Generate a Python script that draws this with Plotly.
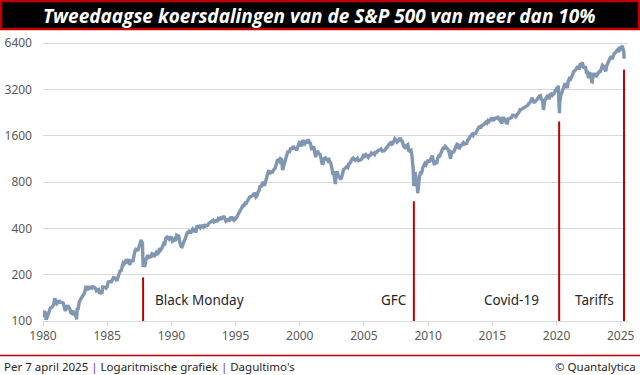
import math
import pandas as pd
import plotly.graph_objects as go

# ---------------- data ----------------
# S&P 500 month-end closes, Jan 1980 ... Mar 2025
sp_1980s = [
    114.16, 113.66, 102.09, 106.29, 111.24, 114.24, 121.67, 122.38, 125.46, 127.47, 140.52, 135.76,
    129.55, 131.27, 136.00, 132.81, 132.59, 131.21, 130.92, 122.79, 116.18, 121.89, 126.35, 122.55,
    120.40, 113.11, 111.96, 116.44, 111.88, 109.61, 107.09, 119.51, 120.42, 133.71, 138.54, 140.64,
    145.30, 148.06, 152.96, 164.42, 162.39, 168.11, 162.56, 164.40, 166.07, 163.55, 166.40, 164.93,
    163.41, 157.06, 159.18, 160.05, 150.55, 153.18, 150.66, 166.68, 166.10, 166.09, 163.58, 167.24,
    179.63, 181.18, 180.66, 179.83, 189.55, 191.85, 190.92, 188.63, 182.08, 189.82, 202.17, 211.28,
    211.78, 226.92, 238.90, 235.52, 247.35, 250.84, 236.12, 252.93, 231.32, 243.98, 249.22, 242.17,
    274.08, 284.20, 291.70, 288.36, 290.10, 304.00, 318.66, 329.80, 321.83, 251.79, 230.30, 247.08,
    257.07, 267.82, 258.89, 261.33, 262.16, 273.50, 272.02, 261.52, 271.91, 278.97, 273.70, 277.72,
    297.47, 288.86, 294.87, 309.64, 320.52, 317.98, 346.08, 351.45, 349.15, 340.36, 345.99, 353.40,
]
sp_1990s = [
    329.08, 331.89, 339.94, 330.80, 361.23, 358.02, 356.15, 322.56, 306.05, 304.00, 322.22, 330.22,
    343.93, 367.07, 375.22, 375.34, 389.83, 371.16, 387.81, 395.43, 387.86, 392.46, 375.22, 417.09,
    408.79, 412.70, 403.69, 414.95, 415.35, 408.14, 424.21, 414.03, 417.80, 418.68, 431.35, 435.71,
    438.78, 443.38, 451.67, 440.19, 450.19, 450.53, 448.13, 463.56, 458.93, 467.83, 461.79, 466.45,
    481.61, 467.14, 445.77, 450.91, 456.50, 444.27, 458.26, 475.49, 462.69, 472.35, 453.69, 459.27,
    470.42, 487.39, 500.71, 514.71, 533.40, 544.75, 562.06, 561.88, 584.41, 581.50, 605.37, 615.93,
    636.02, 640.43, 645.50, 654.17, 669.12, 670.63, 639.95, 651.99, 687.31, 705.27, 757.02, 740.74,
    786.16, 790.82, 757.12, 801.34, 848.28, 885.14, 954.29, 899.47, 947.28, 914.62, 955.40, 970.43,
    980.28, 1049.34, 1101.75, 1111.75, 1090.82, 1133.84, 1120.67, 957.28, 1017.01, 1098.67, 1163.63, 1229.23,
    1279.64, 1238.33, 1286.37, 1335.18, 1301.84, 1372.71, 1328.72, 1320.41, 1282.71, 1362.93, 1388.91, 1469.25,
]
sp_2000s = [
    1394.46, 1366.42, 1498.58, 1452.43, 1420.60, 1454.60, 1430.83, 1517.68, 1436.51, 1429.40, 1314.95, 1320.28,
    1366.01, 1239.94, 1160.33, 1249.46, 1255.82, 1224.42, 1211.23, 1133.58, 1040.94, 1059.78, 1139.45, 1148.08,
    1130.20, 1106.73, 1147.39, 1076.92, 1067.14, 989.82, 911.62, 916.07, 815.28, 885.76, 936.31, 879.82,
    855.70, 841.15, 848.18, 916.92, 963.59, 974.50, 990.31, 1008.01, 995.97, 1050.71, 1058.20, 1111.92,
    1131.13, 1144.94, 1126.21, 1107.30, 1120.68, 1140.84, 1101.72, 1104.24, 1114.58, 1130.20, 1173.82, 1211.92,
    1181.27, 1203.60, 1180.59, 1156.85, 1191.50, 1191.33, 1234.18, 1220.33, 1228.81, 1207.01, 1249.48, 1248.29,
    1280.08, 1280.66, 1294.83, 1310.61, 1270.09, 1270.20, 1276.66, 1303.82, 1335.85, 1377.94, 1400.63, 1418.30,
    1438.24, 1406.82, 1420.86, 1482.37, 1530.62, 1503.35, 1455.27, 1473.99, 1526.75, 1549.38, 1481.14, 1468.36,
    1378.55, 1330.63, 1322.70, 1385.59, 1400.38, 1280.00, 1267.38, 1282.83, 1166.36, 968.75, 896.24, 903.25,
    825.88, 735.09, 797.87, 872.81, 919.14, 919.32, 987.48, 1020.62, 1057.08, 1036.19, 1095.63, 1115.10,
]
sp_2010s = [
    1073.87, 1104.49, 1169.43, 1186.69, 1089.41, 1030.71, 1101.60, 1049.33, 1141.20, 1183.26, 1180.55, 1257.64,
    1286.12, 1327.22, 1325.83, 1363.61, 1345.20, 1320.64, 1292.28, 1218.89, 1131.42, 1253.30, 1246.96, 1257.60,
    1312.41, 1365.68, 1408.47, 1397.91, 1310.33, 1362.16, 1379.32, 1406.58, 1440.67, 1412.16, 1416.18, 1426.19,
    1498.11, 1514.68, 1569.19, 1597.57, 1630.74, 1606.28, 1685.73, 1632.97, 1681.55, 1756.54, 1805.81, 1848.36,
    1782.59, 1859.45, 1872.34, 1883.95, 1923.57, 1960.23, 1930.67, 2003.37, 1972.29, 2018.05, 2067.56, 2058.90,
    1994.99, 2104.50, 2067.89, 2085.51, 2107.39, 2063.11, 2103.84, 1972.18, 1920.03, 2079.36, 2080.41, 2043.94,
    1940.24, 1932.23, 2059.74, 2065.30, 2096.95, 2098.86, 2173.60, 2170.95, 2168.27, 2126.15, 2198.81, 2238.83,
    2278.87, 2363.64, 2362.72, 2384.20, 2411.80, 2423.41, 2470.30, 2471.65, 2519.36, 2575.26, 2647.58, 2673.61,
    2823.81, 2713.83, 2640.87, 2648.05, 2705.27, 2718.37, 2816.29, 2901.52, 2913.98, 2711.74, 2760.17, 2506.85,
    2704.10, 2784.49, 2834.40, 2945.83, 2752.06, 2941.76, 2980.38, 2926.46, 2976.74, 3037.56, 3140.98, 3230.78,
]
sp_2020s = [
    3225.52, 2954.22, 2584.59, 2912.43, 3044.31, 3100.29, 3271.12, 3500.31, 3363.00, 3269.96, 3621.63, 3756.07,
    3714.24, 3811.15, 3972.89, 4181.17, 4204.11, 4297.50, 4395.26, 4522.68, 4307.54, 4605.38, 4567.00, 4766.18,
    4515.55, 4373.94, 4530.41, 4131.93, 4132.15, 3785.38, 4130.29, 3955.00, 3585.62, 3871.98, 4080.11, 3839.50,
    4076.60, 3970.15, 4109.31, 4169.48, 4179.83, 4450.38, 4588.96, 4507.66, 4288.05, 4193.80, 4567.80, 4769.83,
    4845.65, 5096.27, 5254.35, 5035.69, 5277.51, 5460.48, 5522.30, 5648.40, 5762.48, 5705.45, 6032.38, 5881.63,
    6040.53, 5954.50, 5611.85,
]
# Intra-month extremes and the last value
extra_dates = ["1980-01-02", "1982-08-12", "1987-08-25", "1987-10-19", "1987-12-04",
               "2002-10-09", "2008-11-20", "2009-03-09", "2018-12-24", "2020-02-19",
               "2020-03-23", "2022-01-03", "2022-10-12", "2025-02-19", "2025-04-07"]
extra_values = [105.76, 102.42, 336.77, 224.84, 223.92,
                776.76, 752.44, 676.53, 2351.10, 3386.15,
                2237.40, 4796.56, 3577.03, 6144.15, 5062.25]

# Two-day declines of more than 10%
event_dates = ["1987-10-19", "2008-11-20", "2020-03-16", "2025-04-04"]
event_labels = ["Black Monday", "GFC", "Covid-19", "Tariffs"]
event_tops = [192, 600, 1980, 4300]
label_level = 136

y_ticks = [100, 200, 400, 800, 1600, 3200, 6400]

title_text = "Tweedaagse koersdalingen van de S&P 500 van meer dan 10%"
footer_left = "Per 7 april 2025 | Logaritmische grafiek | Dagultimo's"
footer_right = "© Quantalytica"

# ---------------- build series ----------------
monthly = sp_1980s + sp_1990s + sp_2000s + sp_2010s + sp_2020s
month_dates = pd.date_range("1980-01-31", periods=len(monthly), freq="ME")
s = pd.Series(monthly, index=month_dates)
s = pd.concat([s, pd.Series(extra_values, index=pd.to_datetime(extra_dates))]).sort_index()

# ---------------- layout geometry ----------------
W, H = 640, 375
L, R, T, B = 43, 13, 35, 54
pw, ph = W - L - R, H - T - B
def px(x):
    return (x - L) / pw
def py(y):
    return (H - B - y) / ph

RED = "#C00000"
LINE = "#8097B3"
GRID = "#D9D9D9"
TXT = "#595959"
FONT = "Noto Sans"

fig = go.Figure()
fig.add_trace(go.Scatter(x=s.index, y=s.values, mode="lines",
                         line=dict(color=LINE, width=3.4), hoverinfo="skip"))

label_anchor = ["left", "right", "right", "right"]
label_shift = [10, -5, -18, -8]
for d, lab, top, anc, sh in zip(event_dates, event_labels, event_tops, label_anchor, label_shift):
    fig.add_trace(go.Scatter(x=[d, d], y=[y_ticks[0], top], mode="lines",
                             line=dict(color=RED, width=2), hoverinfo="skip"))
    fig.add_annotation(x=d, y=math.log10(label_level), xref="x", yref="y",
                       text=lab, showarrow=False, xanchor=anc, yanchor="middle",
                       xshift=sh, font=dict(family=FONT, size=13.5, color="#262626"))

# title bar
fig.add_shape(type="rect", xref="paper", yref="paper",
              x0=px(1), x1=px(639), y0=py(29), y1=py(1),
              fillcolor="black", line=dict(color=RED, width=2.5), layer="above")
fig.add_annotation(xref="paper", yref="paper", x=px(319), y=py(15.5),
                   text="<b><i>" + title_text.replace("&", "&amp;") + "</i></b>",
                   showarrow=False, xanchor="center", yanchor="middle",
                   font=dict(family="Open Sans", size=19, color="white"))
# footer
fig.add_shape(type="line", xref="paper", yref="paper",
              x0=px(0), x1=px(640), y0=py(355.5), y1=py(355.5),
              line=dict(color=RED, width=1.5))
fl = footer_left.replace("|", "<span style='color:#7030A0'>|</span>")
fig.add_annotation(xref="paper", yref="paper", x=px(2), y=py(366.5),
                   text=fl, showarrow=False, xanchor="left", yanchor="middle",
                   font=dict(family=FONT, size=11.5, color="#262626"))
fig.add_annotation(xref="paper", yref="paper", x=px(638), y=py(366.5),
                   text=footer_right, showarrow=False, xanchor="right", yanchor="middle",
                   font=dict(family=FONT, size=11.5, color="#262626"))

fig.update_layout(
    width=W, height=H,
    margin=dict(l=L, r=R, t=T, b=B, pad=0, autoexpand=False),
    paper_bgcolor="white", plot_bgcolor="white",
    showlegend=False, hovermode=False,
    font=dict(family=FONT, size=12, color=TXT),
)
fig.update_xaxes(type="date", range=["1980-01-01", "2025-06-28"],
                 tick0="1980-01-01", dtick="M60", tickformat="%Y",
                 showgrid=False, showline=True, linecolor=GRID, linewidth=1,
                 ticks="outside", ticklen=4, tickcolor=GRID, automargin=False,
                 tickfont=dict(family=FONT, size=12, color=TXT), zeroline=False)
fig.update_yaxes(type="log", range=[2, 2 + ph / (46.33 / math.log10(2))],
                 tickvals=y_ticks, ticktext=[str(v) for v in y_ticks],
                 showgrid=True, gridcolor=GRID, gridwidth=1, zeroline=False,
                 showline=False, ticks="", ticklabelstandoff=10, automargin=False,
                 tickfont=dict(family=FONT, size=12, color=TXT))

fig.write_html("out.html", config={"displayModeBar": False},
               post_script="document.body.style.margin='0';document.body.style.overflow='hidden';")
